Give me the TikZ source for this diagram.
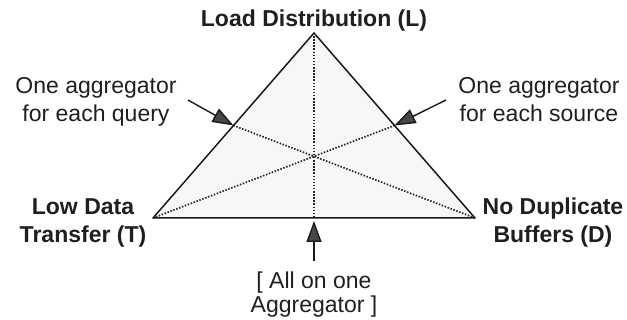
\documentclass[tikz,border=0pt]{standalone}
\usepackage{fontspec}
\setmainfont{Liberation Sans}
\usetikzlibrary{arrows.meta,calc}
\begin{document}
\begin{tikzpicture}[x=1pt,y=-1pt,
  edge/.style={line width=1.5pt,black!90,line join=round},
  median/.style={line width=1.7pt,black!85,dash pattern=on 1.5pt off 1.6pt},
  pointer/.style={line width=1.4pt,black!90,-{Triangle[length=21pt,width=15pt,fill=black!72]}},
  boldlab/.style={font=\fontsize{23}{28}\selectfont\bfseries,text=black!88,inner sep=0pt,align=center},
  plainlab/.style={font=\fontsize{23}{27.5}\selectfont,text=black!88,inner sep=0pt,align=center},
  bottomlab/.style={font=\fontsize{23}{24}\selectfont,text=black!88,inner sep=0pt,align=center}]
\useasboundingbox (0,0) rectangle (627,320);
\coordinate (L) at (314,33);
\coordinate (T) at (153,218);
\coordinate (D) at (475,218);
\coordinate (mLT) at ($(L)!0.5!(T)$);
\coordinate (mLD) at ($(L)!0.5!(D)$);
\coordinate (mTD) at ($(T)!0.5!(D)$);
\fill[black!3] (L) -- (T) -- (D) -- cycle;
\draw[median] (L) -- (mTD);
\draw[median] (T) -- (mLD);
\draw[median] (D) -- (mLT);
\draw[edge] (L) -- (T) -- (D) -- cycle;
\node[boldlab,anchor=base] (labL) at (314,27) {Load Distribution (L)};
\node[boldlab,anchor=base] (labT) at (83,243) {Low Data\\Transfer (T)};
\node[boldlab,anchor=base] (labD) at (553,243) {No Duplicate\\Buffers (D)};
\node[plainlab,anchor=base] (labQ) at (96,121.5) {One aggregator\\for each query};
\node[plainlab,anchor=base] (labS) at (539,121.5) {One aggregator\\for each source};
\node[bottomlab,anchor=base] (labA) at (314,313) {[ All on one\\Aggregator ]};
\coordinate (aQ) at (188,100);
\coordinate (aS) at (446,100);
\coordinate (aA) at (314,261);
\coordinate (tA) at (314,221);
\draw[pointer] (aQ) -- (mLT);
\draw[pointer] (aS) -- (mLD);
\draw[pointer] (aA) -- (tA);
\end{tikzpicture}
\end{document}
